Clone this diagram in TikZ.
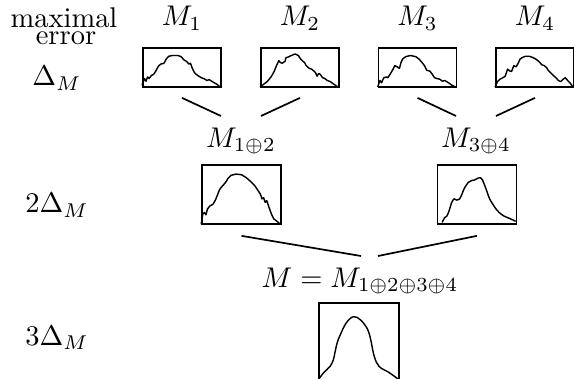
\documentclass[tikz,border=0pt]{standalone}
\usepackage{amsmath,amssymb}
\usepackage{tikz}
\usetikzlibrary{calc}

\begin{document}
\begin{tikzpicture}[x=0.351pt,y=-0.351pt,
  box/.style={draw,line width=0.6pt,inner sep=0pt,minimum width=27.4pt,minimum height=13.7pt},
  widebox/.style={box,minimum width=27.7pt,minimum height=20.7pt},
  bigbox/.style={box,minimum width=28.1pt,minimum height=28.1pt},
  curve/.style={line width=0.5pt,line join=round},
  link/.style={line width=0.6pt}]
\useasboundingbox (0,0) rectangle (574,379);
% error column
\node[anchor=base,inner sep=0pt] (maxi) at (64,27.3) {maximal};
\node[anchor=base,inner sep=0pt] (err) at (66,45) {error};
\node[anchor=base] (e1) at (57,86) {$\Delta_M$};
\node[anchor=base] (e2) at (57,213) {$2\Delta_M$};
\node[anchor=base] (e3) at (57,345) {$3\Delta_M$};
% single models
\foreach \i/\x in {1/182,2/300,3/417.5,4/535}{
  \node[box] (b\i) at (\x,67.5) {};
  \node[anchor=base] (m\i) at (\x,26) {$M_{\i}$};
}
\draw[curve,shift={(b1.south west)},xscale=0.78,yscale=-0.39] plot coordinates {(0,7) (3,24) (5,17) (7,28) (9,24) (12,32) (15,35) (18,45) (21,56) (24,61) (28,63) (31,74) (34,81) (39,83) (46,83) (50,80) (54,71) (57,68) (60,61) (62,63) (64,52) (67,39) (71,32) (76,26) (80,23) (83,19) (86,21) (90,16) (96,9) (100,2)};
\draw[curve,shift={(b2.south west)},xscale=0.78,yscale=-0.39] plot coordinates {(0,2) (5,10) (9,16) (14,28) (18,42) (21,57) (24,70) (26,65) (28,63) (32,68) (33,77) (37,80) (40,83) (45,87) (49,83) (52,74) (55,68) (57,65) (59,57) (63,50) (66,48) (69,43) (71,39) (73,30) (75,37) (77,35) (80,26) (83,24) (86,19) (90,16) (94,10) (100,2)};
\draw[curve,shift={(b3.south west)},xscale=0.78,yscale=-0.39] plot coordinates {(0,2) (3,19) (5,13) (8,26) (11,28) (13,26) (16,35) (19,45) (22,57) (25,54) (28,50) (30,65) (32,74) (36,80) (42,83) (49,80) (53,74) (57,65) (60,57) (63,45) (67,43) (70,35) (73,26) (76,24) (80,22) (83,17) (86,19) (91,13) (95,7) (100,2)};
\draw[curve,shift={(b4.south west)},xscale=0.78,yscale=-0.39] plot coordinates {(0,2) (3,16) (6,22) (10,26) (13,30) (16,48) (19,43) (21,42) (24,57) (27,54) (30,65) (32,74) (35,78) (39,81) (44,81) (48,78) (52,74) (56,68) (60,59) (63,57) (66,52) (68,45) (71,39) (74,33) (78,26) (81,19) (84,16) (87,22) (90,26) (93,19) (96,13) (100,2)};
% pairs
\node[widebox] (b12) at (241.5,194.5) {};
\node[widebox] (b34) at (477,194.5) {};
\node[anchor=base] (m12) at (241,147) {$M_{1\oplus 2}$};
\node[anchor=base] (m34) at (476,147) {$M_{3\oplus 4}$};
\draw[curve,shift={(b12.south west)},xscale=0.79,yscale=-0.59] plot coordinates {(0,1) (2,18) (4,21) (6,17) (8,27) (11,32) (15,35) (18,42) (21,52) (23,59) (25,63) (27,66) (29,69) (31,72) (34,79) (38,84) (44,86) (51,85) (57,80) (63,73) (68,66) (72,58) (75,52) (77,44) (79,46) (81,38) (83,41) (86,29) (89,18) (92,10) (96,6) (100,1)};
\draw[curve,shift={(b34.south west)},xscale=0.79,yscale=-0.59] plot[smooth,tension=0.5] coordinates {(7,4) (10,12) (13,15) (16,25) (19,38) (22,44) (25,42) (29,44) (32,52) (35,62) (40,72) (44,75) (48,76) (52,79) (55,80) (58,76) (61,66) (64,55) (67,44) (71,35) (75,27) (79,21) (85,15) (92,11) (100,6)};
% all four
\node[bigbox] (b1234) at (359,343) {};
\node[anchor=base] (mall) at (360,287) {$M = M_{1\oplus 2\oplus 3\oplus 4}$};
\draw[curve,shift={(b1234.south west)},xscale=0.8,yscale=-0.8] plot[smooth,tension=0.6] coordinates {(0,5) (7,14) (15,22) (19,30) (21,39) (24,52) (28,62) (35,76) (44,84) (53,80) (62,68) (66,54) (70,35) (76,22) (89,14) (100,6)};
% merge lines
\foreach \i/\j/\dx in {1/12/-20,2/12/20,3/34/-20,4/34/20}
  \draw[link] ($(b\i.south)+(0,10)$) -- ($(m\j.base)+(\dx,-31)$);
\draw[link] ($(b12.south)+(0,11)$) -- ($(mall.base)+(1,-31)$);
\draw[link] ($(b34.south)+(0,11)$) -- ($(mall.base)+(18,-31)$);
\end{tikzpicture}
\end{document}
